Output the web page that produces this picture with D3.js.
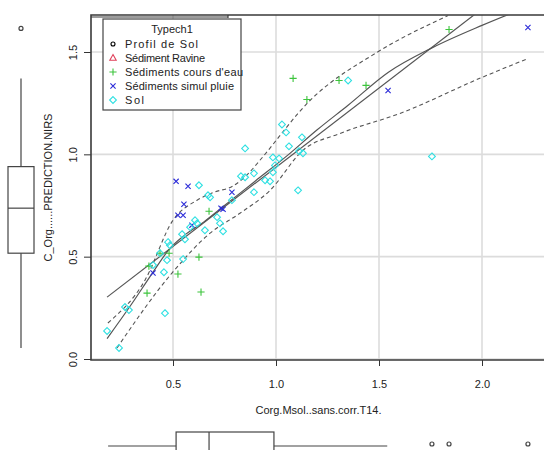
<!DOCTYPE html>
<html>
<head>
<meta charset="utf-8">
<script src="https://cdn.jsdelivr.net/npm/d3@7"></script>
<style>
  body { margin: 0; background: #fff; }
  text { font-family: "Liberation Sans", Arial, sans-serif; fill: #222; }
</style>
</head>
<body>
<svg id="chart" width="544" height="450"></svg>
<script>
"use strict";
/*global d3:false */

// legend groups (Typech1)
var groups = ["Profil de Sol", "Sédiment Ravine", "Sédiments cours d'eau", "Sédiments simul pluie", "Sol"];
var groupColors = ["#000000", "#e0405a", "#3cc43c", "#2a2ad8", "#2ee0e2"];
var groupSymbols = ["circle", "triangle", "plus", "cross", "diamond"];

// points per group (x = Corg.Msol..sans.corr.T14., y = C_Org......PREDICTION.NIRS)
var profilX = [], profilY = [];
var ravineX = [], ravineY = [];
var coursX = [0.374, 0.383, 0.437, 0.481, 0.524, 0.626, 0.636, 0.675, 1.083, 1.150, 1.306, 1.437, 1.840];
var coursY = [0.322, 0.454, 0.517, 0.517, 0.415, 0.498, 0.327, 0.722, 1.371, 1.268, 1.361, 1.337, 1.610];
var pluieX = [0.403, 0.515, 0.573, 0.553, 0.524, 0.549, 0.592, 0.733, 0.743, 0.786, 1.544, 2.223];
var pluieY = [0.420, 0.868, 0.844, 0.756, 0.702, 0.702, 0.654, 0.737, 0.732, 0.815, 1.312, 1.620];
var solX = [0.180, 0.238, 0.267, 0.286, 0.461, 0.456, 0.403, 0.471, 0.549, 0.437, 0.476, 0.485,
            0.544, 0.558, 0.583, 0.607, 0.617, 0.655, 0.626, 0.670, 0.680, 0.714, 0.728, 0.743,
            0.786, 0.830, 0.850, 0.893, 0.947, 0.971, 0.893, 0.850, 0.985, 1.015, 0.995, 0.985,
            1.029, 1.049, 1.063, 1.126, 1.112, 1.131, 1.107, 1.350, 1.757];
var solY = [0.137, 0.054, 0.254, 0.239, 0.224, 0.424, 0.459, 0.483, 0.488, 0.517, 0.571, 0.556,
            0.610, 0.585, 0.644, 0.678, 0.663, 0.629, 0.849, 0.800, 0.790, 0.693, 0.663, 0.624,
            0.776, 0.893, 0.888, 0.907, 0.873, 0.868, 0.815, 1.029, 0.985, 0.980, 0.946, 0.912,
            1.146, 1.107, 1.039, 1.083, 1.015, 1.005, 0.824, 1.361, 0.990];

// least-squares line as drawn in the picture: [intercept, slope]
var regLine = [0.163, 0.774];

// smoother and spread curves
var smoothX = [0.18, 0.30, 0.40, 0.485, 0.55, 0.65, 0.75, 0.90, 1.05, 1.20, 1.35, 1.544, 1.757, 2.0, 2.22];
var smoothY = [0.10, 0.27, 0.42, 0.54, 0.60, 0.67, 0.75, 0.87, 0.99, 1.12, 1.24, 1.40, 1.52, 1.63, 1.72];
var upperX = [0.184, 0.364, 0.50, 0.617, 0.70, 0.791, 0.874, 0.922, 1.165, 1.49, 1.835];
var upperY = [0.176, 0.385, 0.678, 0.776, 0.815, 0.845, 0.915, 0.971, 1.263, 1.498, 1.678];
var lowerX = [0.228, 0.495, 0.68, 0.825, 0.971, 1.131, 1.311, 1.602, 2.0, 2.223];
var lowerY = [0.054, 0.420, 0.615, 0.712, 0.824, 1.02, 1.102, 1.20, 1.376, 1.468];

// marginal boxplots: [lower whisker, Q1, median, Q3, upper whisker]
var xBoxStats = [0.185, 0.515, 0.675, 0.99, 1.54];
var xOutliers = [1.757, 1.84, 2.223];
var yBoxStats = [0.054, 0.517, 0.737, 0.94, 1.37];
var yOutliers = [1.615];

var xTicks = [0.5, 1.0, 1.5, 2.0];
var yTicks = [0.0, 0.5, 1.0, 1.5];

var plot = { left: 91, right: 546, top: 15, bottom: 360 };

var svg = d3.select('#chart');

var x = d3.scaleLinear().domain([0.5, 2.0]).range([173, 482]);
var y = d3.scaleLinear().domain([0, 1.5]).range([359, 52]);

svg.append('defs').append('clipPath').attr('id', 'plotclip')
  .append('rect')
  .attr('x', plot.left).attr('y', plot.top)
  .attr('width', plot.right - plot.left).attr('height', plot.bottom - plot.top);

// grid
var grid = svg.append('g').attr('stroke', '#dcdcdc').attr('stroke-width', 1.6);
grid.selectAll('line.gx').data(xTicks).enter().append('line')
  .attr('x1', function (d) { return x(d); }).attr('x2', function (d) { return x(d); })
  .attr('y1', plot.top).attr('y2', plot.bottom);
grid.selectAll('line.gy').data(yTicks).enter().append('line')
  .attr('y1', function (d) { return y(d); }).attr('y2', function (d) { return y(d); })
  .attr('x1', plot.left).attr('x2', plot.right);

// axes
var xAxis = svg.append('g').attr('transform', 'translate(0,' + plot.bottom + ')')
  .call(d3.axisBottom(x).tickValues(xTicks).tickSize(6).tickPadding(14).tickFormat(d3.format('.1f')));
xAxis.select('.domain').remove();
xAxis.selectAll('line').attr('stroke', '#333');
xAxis.selectAll('text').attr('font-size', 11).attr('fill', '#222')
  .attr('font-family', '"Liberation Sans", Arial, sans-serif');

var yAxis = svg.append('g').attr('transform', 'translate(' + plot.left + ',0)')
  .call(d3.axisLeft(y).tickValues(yTicks).tickSize(7).tickFormat(d3.format('.1f')));
yAxis.select('.domain').remove();
yAxis.selectAll('line').attr('stroke', '#333');
yAxis.selectAll('text').attr('font-size', 11).attr('fill', '#222')
  .attr('font-family', '"Liberation Sans", Arial, sans-serif')
  .attr('transform', 'rotate(-90)')
  .attr('text-anchor', 'middle')
  .attr('x', 0).attr('dy', 0)
  .attr('y', -14);

// plot frame (right edge falls outside the picture)
var frame = svg.append('g').attr('stroke', '#3a3a3a').attr('stroke-width', 1.6).attr('fill', 'none');
frame.append('path')
  .attr('d', 'M' + plot.right + ',' + plot.top + 'H' + plot.left + 'V' + plot.bottom + 'H' + plot.right);
frame.append('path').attr('stroke-width', 1.2)
  .attr('d', 'M' + plot.left + ',' + (plot.top + 2) + 'H228M228,' + plot.top + 'V' + (plot.top + 3));

// axis titles
svg.append('text').attr('x', (plot.left + plot.right) / 2).attr('y', 414)
  .attr('text-anchor', 'middle').attr('font-size', 11)
  .text('Corg.Msol..sans.corr.T14.');
svg.append('text').attr('transform', 'translate(52,' + ((plot.top + plot.bottom) / 2) + ') rotate(-90)')
  .attr('text-anchor', 'middle').attr('font-size', 11)
  .text('C_Org......PREDICTION.NIRS');

// fitted lines
var inner = svg.append('g').attr('clip-path', 'url(#plotclip)');

var allX = profilX.concat(ravineX, coursX, pluieX, solX);
var xExt = d3.extent(allX);

inner.append('line')
  .attr('x1', x(xExt[0])).attr('y1', y(regLine[0] + regLine[1] * xExt[0]))
  .attr('x2', x(xExt[1])).attr('y2', y(regLine[0] + regLine[1] * xExt[1]))
  .attr('stroke', '#555').attr('stroke-width', 1.2);

var curve = d3.line()
  .x(function (d) { return x(d[0]); })
  .y(function (d) { return y(d[1]); })
  .curve(d3.curveMonotoneX);

inner.append('path').datum(d3.zip(smoothX, smoothY))
  .attr('d', curve).attr('fill', 'none').attr('stroke', '#555').attr('stroke-width', 1.2);
inner.append('path').datum(d3.zip(upperX, upperY))
  .attr('d', curve).attr('fill', 'none').attr('stroke', '#555').attr('stroke-width', 1.1)
  .attr('stroke-dasharray', '4,3');
inner.append('path').datum(d3.zip(lowerX, lowerY))
  .attr('d', curve).attr('fill', 'none').attr('stroke', '#555').attr('stroke-width', 1.1)
  .attr('stroke-dasharray', '4,3');

// symbols
var symbolPath = {
  circle: 'M2,0A2,2 0 1,1 -2,0A2,2 0 1,1 2,0Z',
  triangle: 'M0,-3.5L3.2,2.2L-3.2,2.2Z',
  plus: 'M-3.6,0H3.6M0,-3.6V3.6',
  cross: 'M-2.6,-2.6L2.6,2.6M-2.6,2.6L2.6,-2.6',
  diamond: 'M0,-3.4L3.4,0L0,3.4L-3.4,0Z'
};

var series = [
  { xs: profilX, ys: profilY, g: 0 },
  { xs: ravineX, ys: ravineY, g: 1 },
  { xs: coursX, ys: coursY, g: 2 },
  { xs: pluieX, ys: pluieY, g: 3 },
  { xs: solX, ys: solY, g: 4 }
];

series.forEach(function (s) {
  inner.selectAll(null)
    .data(d3.zip(s.xs, s.ys))
    .enter()
    .append('path')
    .attr('transform', function (d) { return 'translate(' + x(d[0]) + ',' + y(d[1]) + ')'; })
    .attr('d', symbolPath[groupSymbols[s.g]])
    .attr('fill', 'none')
    .attr('stroke', groupColors[s.g])
    .attr('stroke-width', 1.1);
});

// legend
var legend = svg.append('g');
legend.append('rect').attr('x', 103).attr('y', 19).attr('width', 138).attr('height', 91)
  .attr('fill', '#fff').attr('stroke', '#444').attr('stroke-width', 1.2);
legend.append('text').attr('x', 172).attr('y', 33).attr('text-anchor', 'middle')
  .attr('font-size', 11).text('Typech1');
var items = legend.selectAll('g.item').data(groups).enter().append('g')
  .attr('class', 'item')
  .attr('transform', function (d, i) { return 'translate(113,' + (44 + i * 14) + ')'; });
items.append('path')
  .attr('d', function (d, i) { return symbolPath[groupSymbols[i]]; })
  .attr('fill', 'none')
  .attr('stroke', function (d, i) { return groupColors[i]; })
  .attr('stroke-width', 1.1);
items.append('text').attr('x', 12).attr('y', 4).attr('font-size', 11)
  .attr('textLength', function (d, i) { return [73, 80, 118, 109, 19][i]; })
  .text(function (d) { return d; });

// marginal boxplots
var bx = svg.append('g').attr('stroke', '#444').attr('stroke-width', 1.2).attr('fill', 'none');
var xbY = 446;
bx.append('line').attr('x1', x(xBoxStats[0])).attr('x2', x(xBoxStats[1])).attr('y1', xbY).attr('y2', xbY);
bx.append('line').attr('x1', x(xBoxStats[3])).attr('x2', x(xBoxStats[4])).attr('y1', xbY).attr('y2', xbY);
bx.append('rect').attr('x', x(xBoxStats[1])).attr('y', xbY - 14)
  .attr('width', x(xBoxStats[3]) - x(xBoxStats[1])).attr('height', 30);
bx.append('line').attr('x1', x(xBoxStats[2])).attr('x2', x(xBoxStats[2])).attr('y1', xbY - 14).attr('y2', xbY + 16);
bx.selectAll('circle.xo').data(xOutliers).enter().append('circle')
  .attr('cx', function (d) { return x(d); }).attr('cy', xbY - 2).attr('r', 2);

var ybX = 21;
bx.append('line').attr('y1', y(yBoxStats[0])).attr('y2', y(yBoxStats[1])).attr('x1', ybX).attr('x2', ybX);
bx.append('line').attr('y1', y(yBoxStats[3])).attr('y2', y(yBoxStats[4])).attr('x1', ybX).attr('x2', ybX);
bx.append('rect').attr('x', ybX - 13).attr('y', y(yBoxStats[3]))
  .attr('width', 26).attr('height', y(yBoxStats[1]) - y(yBoxStats[3]));
bx.append('line').attr('y1', y(yBoxStats[2])).attr('y2', y(yBoxStats[2])).attr('x1', ybX - 13).attr('x2', ybX + 13);
bx.selectAll('circle.yo').data(yOutliers).enter().append('circle')
  .attr('cx', ybX).attr('cy', function (d) { return y(d); }).attr('r', 2);
</script>
</body>
</html>
